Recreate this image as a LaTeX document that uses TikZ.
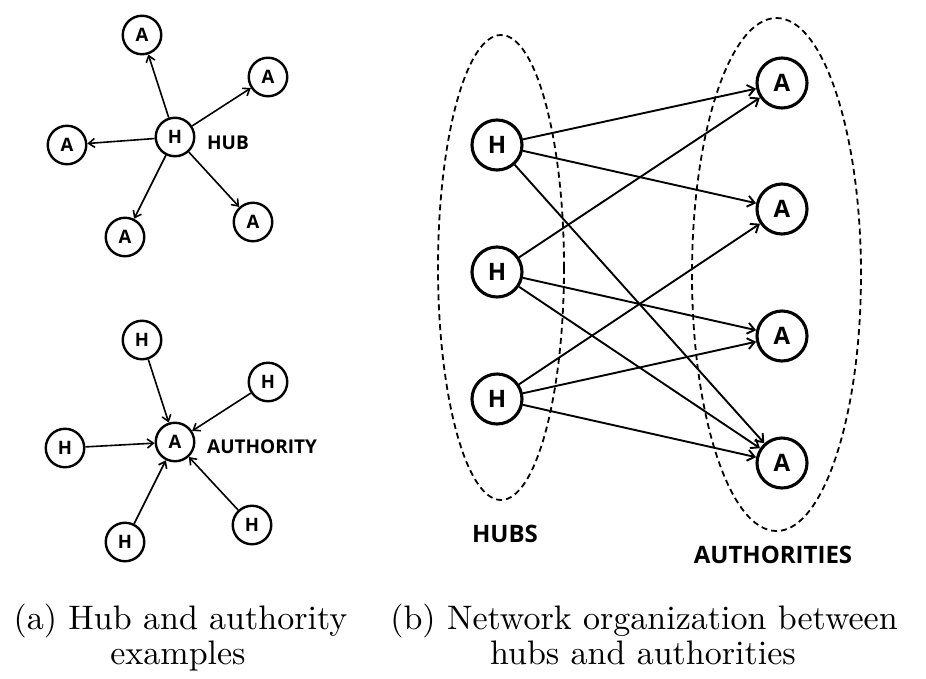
\documentclass[tikz,border=0pt]{standalone}
\usepackage{fontspec}
\newfontfamily\labelfont{Open Sans}
\usetikzlibrary{arrows.meta}

\begin{document}
\begin{tikzpicture}[x=1pt, y=-1pt,
        smallnode/.style={circle, draw, line width=2.4pt, minimum size=38.5pt, inner sep=0pt, font=\labelfont\bfseries\fontsize{18.5}{20}\selectfont},
        bignode/.style={circle, draw, line width=3.1pt, minimum size=50pt, inner sep=0pt, font=\labelfont\bfseries\fontsize{24}{26}\selectfont},
        smallarrow/.style={line width=1.6pt, -{Straight Barb[length=6pt, width=9pt]}},
        bigarrow/.style={line width=1.9pt, -{Straight Barb[length=7pt, width=11pt]}},
        grouplabel/.style={font=\labelfont\bfseries\fontsize{24}{26}\selectfont},
        rolelabel/.style={anchor=west, inner sep=0pt, font=\labelfont\bfseries\fontsize{19}{21}\selectfont},
        captionline/.style={anchor=base, inner sep=0pt, scale=3.4, font=\fontsize{10}{12}\selectfont}]
        \useasboundingbox (0, 0) rectangle (926, 678);
        
        \node[smallnode] (Hhub) at (175, 137) {H};
        \node[smallnode] (Atop) at (142, 35) {A};
        \node[smallnode] (Aright) at (268, 77) {A};
        \node[smallnode] (Aleft) at (67, 145) {A};
        \node[smallnode] (Abotleft) at (125, 237) {A};
        \node[smallnode] (Abotright) at (253, 222) {A};
        \node[rolelabel] (hublabel) at (207, 143) {HUB};
        
        \draw[smallarrow] (Hhub) -- (Atop);
        \draw[smallarrow] (Hhub) -- (Aright);
        \draw[smallarrow] (Hhub) -- (Aleft);
        \draw[smallarrow] (Hhub) -- (Abotleft);
        \draw[smallarrow] (Hhub) -- (Abotright);
        
        \node[smallnode] (Aauth) at (175, 442) {A};
        \node[smallnode] (Htop) at (142, 340) {H};
        \node[smallnode] (Hright) at (268, 382) {H};
        \node[smallnode] (Hleft) at (65, 448) {H};
        \node[smallnode] (Hbotleft) at (125, 542) {H};
        \node[smallnode] (Hbotright) at (252, 525) {H};
        \node[rolelabel] (authlabel) at (207, 447) {AUTHORITY};
        
        \draw[smallarrow] (Htop) -- (Aauth);
        \draw[smallarrow] (Hright) -- (Aauth);
        \draw[smallarrow] (Hleft) -- (Aauth);
        \draw[smallarrow] (Hbotleft) -- (Aauth);
        \draw[smallarrow] (Hbotright) -- (Aauth);
        
        \draw[line width=1.8pt, dash pattern=on 6pt off 4pt] (501, 267.5) ellipse [x radius=63pt, y radius=232.5pt];
        \draw[line width=1.8pt, dash pattern=on 6pt off 4pt] (776.5, 274.5) ellipse [x radius=84.5pt, y radius=256.5pt];
        
        \node[bignode] (H1) at (497, 145) {H};
        \node[bignode] (H2) at (497, 272) {H};
        \node[bignode] (H3) at (497, 399) {H};
        \node[bignode] (A1) at (782, 83) {A};
        \node[bignode] (A2) at (782, 209) {A};
        \node[bignode] (A3) at (782, 336) {A};
        \node[bignode] (A4) at (782, 463) {A};
        
        \draw[bigarrow] (H1) -- (A1);
        \draw[bigarrow] (H1) -- (A2);
        \draw[bigarrow] (H1) -- (A4);
        \draw[bigarrow] (H2) -- (A1);
        \draw[bigarrow] (H2) -- (A3);
        \draw[bigarrow] (H2) -- (A4);
        \draw[bigarrow] (H3) -- (A2);
        \draw[bigarrow] (H3) -- (A3);
        \draw[bigarrow] (H3) -- (A4);
        
        \node[grouplabel] (hubs) at (505, 534) {HUBS};
        \node[grouplabel] (auths) at (773, 555) {AUTHORITIES};
        
        \node[captionline] (capa1) at (180.5, 629) {(a) Hub and authority};
        \node[captionline] (capa2) at (178, 664) {examples};
        \node[captionline] (capb1) at (644, 629) {(b) Network organization between};
        \node[captionline] (capb2) at (643, 664) {hubs and authorities};
    \end{tikzpicture}
\end{document}
